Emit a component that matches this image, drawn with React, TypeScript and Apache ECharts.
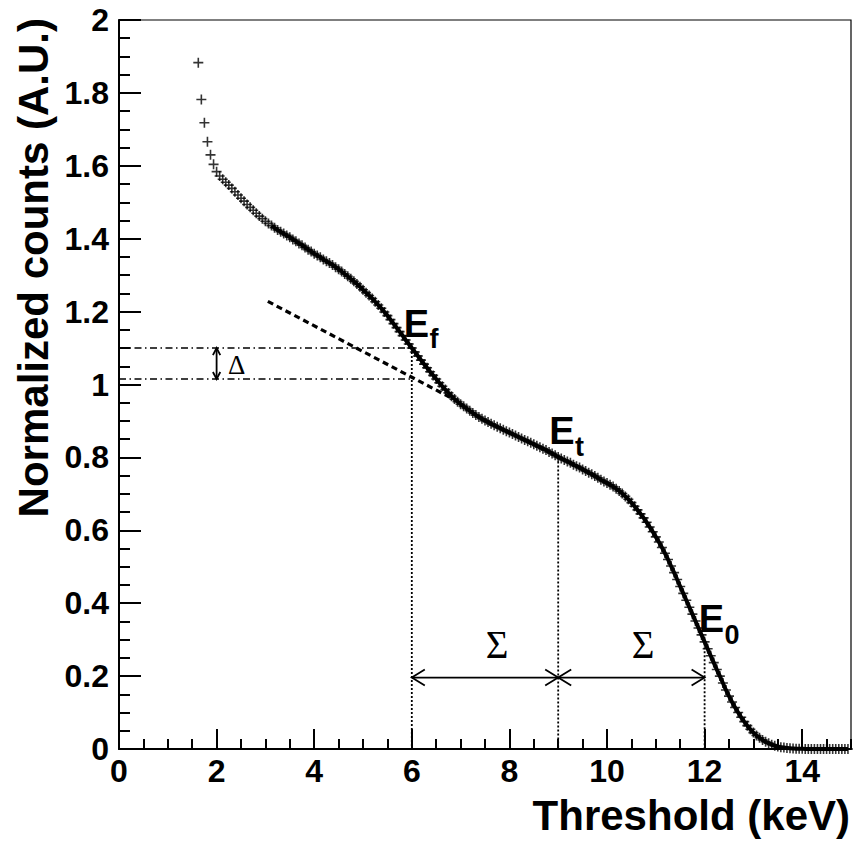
import React, { useEffect, useRef } from "react";
import * as echarts from "echarts";

// ---- measured data (normalized counts vs threshold, keV) ----
const X_START = 1.625;
const X_STEP = 0.0625;
const COUNTS = [
  1.883, 1.782, 1.718, 1.666, 1.63, 1.604,
  1.584, 1.572, 1.563, 1.555, 1.547, 1.538, 1.529, 1.52, 1.511, 1.503, 1.494, 1.486, 1.478, 1.47, 1.462, 1.455,
  1.448, 1.442, 1.436, 1.43, 1.424, 1.419, 1.414, 1.409, 1.404, 1.398, 1.393, 1.387, 1.382, 1.376, 1.37, 1.365,
  1.359, 1.354, 1.349, 1.343, 1.338, 1.333, 1.328, 1.322, 1.316, 1.31, 1.303, 1.297, 1.29, 1.283, 1.276, 1.268,
  1.26, 1.252, 1.244, 1.236, 1.227, 1.218, 1.209, 1.199, 1.189, 1.178, 1.167, 1.156, 1.145, 1.134, 1.122, 1.111,
  1.1, 1.089, 1.078, 1.067, 1.056, 1.046, 1.035, 1.025, 1.015, 1.005, 0.995, 0.986, 0.977, 0.968, 0.96, 0.953,
  0.946, 0.94, 0.934, 0.928, 0.922, 0.916, 0.911, 0.906, 0.901, 0.897, 0.892, 0.888, 0.884, 0.88, 0.876, 0.872,
  0.868, 0.864, 0.86, 0.856, 0.852, 0.848, 0.844, 0.84, 0.836, 0.832, 0.828, 0.824, 0.82, 0.815, 0.811, 0.806,
  0.801, 0.797, 0.793, 0.789, 0.785, 0.78, 0.776, 0.772, 0.767, 0.763, 0.758, 0.754, 0.749, 0.744, 0.739, 0.734,
  0.73, 0.725, 0.72, 0.714, 0.708, 0.701, 0.693, 0.685, 0.676, 0.666, 0.656, 0.645, 0.634, 0.622, 0.609, 0.596,
  0.582, 0.568, 0.553, 0.537, 0.52, 0.502, 0.484, 0.465, 0.446, 0.427, 0.408, 0.389, 0.37, 0.351, 0.332, 0.313,
  0.294, 0.275, 0.256, 0.237, 0.218, 0.2, 0.181, 0.162, 0.145, 0.129, 0.114, 0.1, 0.087, 0.075, 0.064, 0.054,
  0.045, 0.037, 0.031, 0.025, 0.02, 0.016, 0.012, 0.009, 0.007, 0.005, 0.004, 0.003, 0.002, 0.0015, 0.001, 0.001,
  0.0005, 0, 0, 0, 0, 0, 0, 0, 0, 0, 0, 0, 0, 0, 0, 0,
];
const FIT_FROM = 3.1;

// ---- annotation values ----
const E_MARKS = [6, 9, 12];
const E_LEVELS = [1.1, 0.8, 0.29];
const E_SUBS = ["f", "t", "0"];
const E_LABEL_X = [5.895, 8.879, 11.94];
const E_LABEL_Y = [1.131, 0.836, 0.321];
const DELTA_LEVELS = [1.1, 1.015];
const DELTA_ARROW_X = 2.0;
const DELTA_LABEL = [2.234, 1.0535];
const SIGMA_Y = 0.196;
const SIGMA_LABEL_X = [7.746, 10.74];
const SIGMA_LABEL_Y = 0.2867;
const TANGENT_X = [3.05, 6.85];
const TANGENT_Y = [1.228, 0.96];

const X_TITLE = "Threshold (keV)";
const Y_TITLE = "Normalized counts (A.U.)";

const SANS = '"Liberation Sans", Arial, Helvetica, sans-serif';
const SERIF = '"Liberation Serif", "Times New Roman", serif';
const PLUS = "path://M0,4.2H10V5.8H0Z M4.2,0H5.8V10H4.2Z";

export default function App() {
  const ref = useRef<HTMLDivElement>(null);
  useEffect(() => {
    document.body.style.margin = "0";
    const chart = echarts.init(ref.current!, undefined, { renderer: "svg" });
    const pts = COUNTS.map((y, i) => [X_START + i * X_STEP, y]);
    const fit = pts.filter((p) => p[0] >= FIT_FROM);
    const seg = (data: number[][], lineStyle: any) => ({
      type: "line",
      data,
      symbol: "none",
      silent: true,
      clip: false,
      z: 4,
      lineStyle: { color: "#000", ...lineStyle },
    });
    const labelFont = { fontFamily: SANS, fontWeight: "bold", fontSize: 32, color: "#000" };
    const series: any[] = [
      {
        type: "scatter",
        data: pts,
        symbol: PLUS,
        symbolSize: 10,
        itemStyle: { color: "#000" },
        silent: true,
        z: 2,
      },
      {
        type: "line",
        data: fit,
        symbol: "none",
        smooth: 0.2,
        silent: true,
        z: 3,
        lineStyle: { color: "#000", width: 4 },
      },
    ];
    DELTA_LEVELS.forEach((lv) =>
      series.push(seg([[0, lv], [E_MARKS[0], lv]], { width: 1.5, type: [7, 3.5, 1.5, 3.5] }))
    );
    E_MARKS.forEach((xm, i) =>
      series.push(seg([[xm, E_LEVELS[i]], [xm, 0]], { width: 1.8, type: [2, 2] }))
    );
    series.push(
      seg([[TANGENT_X[0], TANGENT_Y[0]], [TANGENT_X[1], TANGENT_Y[1]]], { width: 3.2, type: [6, 4] })
    );
    series.push(seg([[E_MARKS[0], SIGMA_Y], [E_MARKS[2], SIGMA_Y]], { width: 1.8 }));
    series.push(seg([[DELTA_ARROW_X, DELTA_LEVELS[0]], [DELTA_ARROW_X, DELTA_LEVELS[1]]], { width: 1.8 }));

    chart.setOption({
      animation: false,
      backgroundColor: "#fff",
      grid: {
        left: 119,
        right: 7,
        top: 20,
        bottom: 97,
        show: true,
        borderColor: "#000",
        borderWidth: 1.2,
      },
      xAxis: [
        {
          type: "value",
          min: 0,
          max: 15,
          interval: 2,
          position: "bottom",
          axisLine: { show: true, onZero: false, lineStyle: { color: "#000", width: 2 } },
          axisTick: { show: true, inside: true, length: 20, lineStyle: { color: "#000", width: 2 } },
          axisLabel: { ...labelFont, margin: 6, showMaxLabel: false },
          splitLine: { show: false },
        },
        {
          type: "value",
          min: 0,
          max: 15,
          interval: 0.5,
          position: "bottom",
          axisLine: { show: false },
          axisTick: { show: true, inside: true, length: 10, lineStyle: { color: "#000", width: 2 } },
          axisLabel: { show: false },
          splitLine: { show: false },
        },
      ],
      yAxis: {
        type: "value",
        min: 0,
        max: 2,
        interval: 0.2,
        axisLine: { show: true, onZero: false, lineStyle: { color: "#000", width: 2 } },
        axisTick: { show: true, inside: true, length: 22, lineStyle: { color: "#000", width: 2 } },
        minorTick: { show: true, splitNumber: 4, length: 11, lineStyle: { color: "#000", width: 2 } },
        axisLabel: { ...labelFont, margin: 10 },
        splitLine: { show: false },
        minorSplitLine: { show: false },
      },
      series,
    });

    const px = (x: number, y: number) =>
      chart.convertToPixel({ xAxisIndex: 0, yAxisIndex: 0 } as any, [x, y]) as number[];
    const head = (tip: number[], d: number[], L: number, W: number) => {
      const n = [-d[1], d[0]];
      return {
        type: "polyline",
        silent: true,
        z: 10,
        shape: {
          points: [
            [tip[0] - L * d[0] + W * n[0], tip[1] - L * d[1] + W * n[1]],
            tip,
            [tip[0] - L * d[0] - W * n[0], tip[1] - L * d[1] - W * n[1]],
          ],
        },
        style: { stroke: "#000", lineWidth: 1.8, fill: null },
      };
    };
    const text = (x: number, y: number, t: string, font: string, align: string) => ({
      type: "text",
      x,
      y,
      silent: true,
      z: 10,
      style: {
        text: t,
        font,
        fill: "#000",
        align,
        verticalAlign: "middle",
        textAlign: align,
        textVerticalAlign: "middle",
      },
    });
    const graphics: any[] = [];
    // Sigma arrows
    graphics.push(head(px(E_MARKS[0], SIGMA_Y), [-1, 0], 13, 8));
    graphics.push(head(px(E_MARKS[1], SIGMA_Y), [1, 0], 13, 8));
    graphics.push(head(px(E_MARKS[1], SIGMA_Y), [-1, 0], 13, 8));
    graphics.push(head(px(E_MARKS[2], SIGMA_Y), [1, 0], 13, 8));
    // Delta arrow
    graphics.push(head(px(DELTA_ARROW_X, DELTA_LEVELS[0]), [0, -1], 7, 3.7));
    graphics.push(head(px(DELTA_ARROW_X, DELTA_LEVELS[1]), [0, 1], 7, 3.7));
    // Sigma labels
    SIGMA_LABEL_X.forEach((sx) => {
      const p = px(sx, SIGMA_LABEL_Y);
      graphics.push(text(p[0], p[1], "Σ", `39px ${SERIF}`, "center"));
    });
    // Delta label
    {
      const p = px(DELTA_LABEL[0], DELTA_LABEL[1]);
      graphics.push(text(p[0], p[1], "Δ", `27px ${SERIF}`, "left"));
    }
    // E labels with subscripts
    E_SUBS.forEach((sub, i) => {
      const p = px(E_LABEL_X[i], E_LABEL_Y[i]);
      graphics.push(text(p[0] - 3, p[1] - 0.3465 * 38, "E", `bold 38px ${SANS}`, "left"));
      graphics.push(text(p[0] + 22.8, p[1] + 12 - 0.3465 * 27, sub, `bold 27px ${SANS}`, "left"));
    });
    // Axis titles
    graphics.push(text(850, 815.5, X_TITLE, `bold 42px ${SANS}`, "right"));
    const yt: any = text(33, 18, Y_TITLE, `bold 42px ${SANS}`, "right");
    yt.rotation = Math.PI / 2;
    graphics.push(yt);
    chart.setOption({ graphic: graphics });

    return () => chart.dispose();
  }, []);
  return <div ref={ref} style={{ width: 858, height: 846 }} />;
}
